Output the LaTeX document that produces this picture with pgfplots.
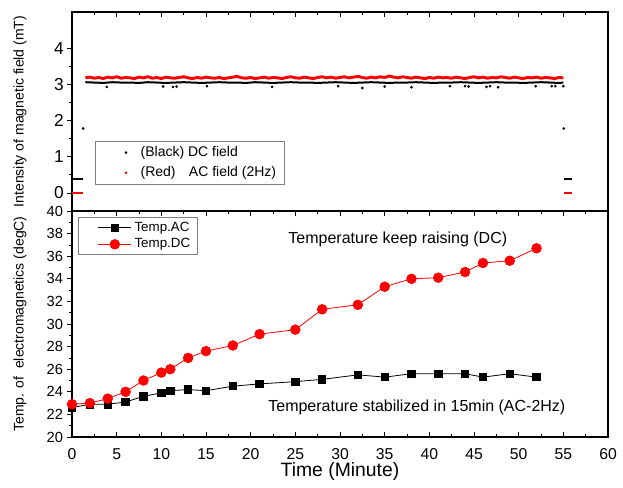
\documentclass[border=0pt]{standalone}
\usepackage{fontspec}
\setmainfont{Liberation Sans}
\usepackage{pgfplots}
\pgfplotsset{compat=1.18}
\begin{document}
\begin{tikzpicture}
\useasboundingbox (-54pt,-37.5pt) rectangle (413.25pt,327.75pt);
\pgfplotsset{
 common/.style={
  scale only axis, width=402pt, xmin=0, xmax=60, xtick={0,5,...,60}, minor x tick num=1,
  minor y tick num=1, tick align=inside, ytick pos=left,
  major tick length=3.5pt, minor tick length=2pt,
  tick style={black, line width=0.6pt},
  major y tick style={xshift=-3.5pt}, minor y tick style={xshift=-2pt},
  axis line style={line width=0.8pt},
  /pgf/number format/assume math mode=true,
 }
}
% ---------------- bottom panel: temperatures ----------------
\begin{axis}[common, at={(0,0)}, anchor=south west, height=169.5pt,
 ymin=20, ymax=40, ytick={20,22,...,40},
 xticklabel style={font=\fontsize{11.8}{12}\selectfont, yshift=-5pt},
 yticklabel style={font=\fontsize{11}{12}\selectfont, xshift=-3.2pt},
 xlabel={Time (Minute)},
 xlabel style={font=\fontsize{14.5}{16}\selectfont, at={(axis description cs:0.5,0)}, anchor=north, inner sep=0pt, yshift=-19pt},
 ylabel={Temp. of\ \ electromagnetics (degC)},
 ylabel style={font=\fontsize{10.5}{12}\selectfont, at={(axis description cs:-0.097,0.5)}, anchor=center, inner sep=0pt},
 legend style={at={(0.011,0.973)}, anchor=north west, draw=gray, font=\fontsize{10}{11}\selectfont, row sep=0pt, inner sep=1.5pt, inner xsep=3pt},
 legend cell align=left,
 legend image code/.code={\draw[draw=none] (-12pt,0pt) -- (0pt,0pt); \draw[mark repeat=2,mark phase=2,#1] plot coordinates {(0pt,0pt) (12.5pt,0pt) (25pt,0pt)};},
]
\addplot[black, line width=0.6pt, mark=square*, mark size=2.8pt] coordinates {
(0,22.6)(2,22.9)(4,22.9)(6,23.1)(8,23.6)(10,23.9)(11,24.1)(13,24.2)(15,24.1)(18,24.5)
(21,24.7)(25,24.9)(28,25.1)(32,25.5)(35,25.3)(38,25.6)(41,25.6)(44,25.6)(46,25.3)(49,25.6)(52,25.3)};
\addlegendentry{Temp.AC}
\addplot[red, line width=0.6pt, mark=*, mark size=3.6pt] coordinates {
(0,22.9)(2,23.0)(4,23.4)(6,24.0)(8,25.0)(10,25.7)(11,26.0)(13,27.0)(15,27.6)(18,28.1)
(21,29.1)(25,29.5)(28,31.3)(32,31.7)(35,33.3)(38,34.0)(41,34.1)(44,34.6)(46,35.4)(49,35.6)(52,36.7)};
\addlegendentry{Temp.DC}
\node[anchor=west, font=\fontsize{12}{14}\selectfont, inner sep=0pt] at (axis cs:24.2,37.45) {Temperature keep raising (DC)};
\node[anchor=west, font=\fontsize{12}{14}\selectfont, inner sep=0pt] at (axis cs:21.95,22.6) {Temperature stabilized in 15min (AC-2Hz)};
\end{axis}
% ---------------- top panel: magnetic field ----------------
\begin{axis}[common, at={(0,169.5pt)}, anchor=south west, height=149.25pt,
 ymin=-0.5, ymax=5, ytick={0,1,2,3,4},
 xtick pos=right, xticklabels={},
 yticklabel style={font=\fontsize{13}{14}\selectfont, xshift=-2.6pt},
 ylabel={Intensity of magnetic field (mT)},
 ylabel style={font=\fontsize{10.5}{12}\selectfont, at={(axis description cs:-0.097,0.5)}, anchor=center, inner sep=0pt},
 legend style={at={(0.043,0.352)}, anchor=north west, draw=gray, font=\fontsize{10.5}{12}\selectfont, row sep=2pt, inner xsep=4pt},
 legend cell align=left,
]
\addplot[black, line width=1.2pt, forget plot] coordinates {(0,0.38)(1.2,0.38)};
\addplot[red, line width=1.2pt, forget plot] coordinates {(0,0)(1.2,0)};
\addplot[black, line width=1.2pt, forget plot] coordinates {(55.1,0.38)(56,0.38)};
\addplot[red, line width=1.2pt, forget plot] coordinates {(55.1,0)(56,0)};
\addplot[black, only marks, mark=*, mark size=0.8pt, forget plot] coordinates {(1.25,1.78)(55.05,1.78)};
\addplot[black, only marks, mark=*, mark size=0.8pt, forget plot] coordinates {
(3.9,2.93)(10.2,2.94)(11.3,2.93)(11.7,2.94)(15.1,2.95)(22.4,2.93)(29.8,2.95)(32.5,2.90)(35.0,2.94)(38.0,2.92)
(42.3,2.95)(44.0,2.95)(44.4,2.94)(46.4,2.93)(46.8,2.95)(47.7,2.92)(51.9,2.95)(53.7,2.95)(54.1,2.95)(55.0,2.95)};
\addplot[black, line width=1.5pt,
 legend image code/.code={\draw[draw=none] (0pt,0pt) -- (28pt,0pt); \path[fill=black, draw=none, line width=0pt] (19pt,0pt) circle (1.1pt);}] coordinates {
(1.5,3.06)(2.5,3.05)(3.5,3.04)(4.5,3.06)(5.5,3.05)(6.5,3.05)(7.5,3.04)(8.5,3.06)(9.5,3.05)(10.5,3.04)
(11.5,3.05)(12.5,3.06)(13.5,3.05)(14.5,3.04)(15.5,3.05)(16.5,3.06)(17.5,3.05)(18.5,3.05)(19.5,3.04)(20.5,3.06)
(21.5,3.05)(22.5,3.04)(23.5,3.05)(24.5,3.06)(25.5,3.05)(26.5,3.05)(27.5,3.04)(28.5,3.05)(29.5,3.06)(30.5,3.05)
(31.5,3.04)(32.5,3.05)(33.5,3.06)(34.5,3.05)(35.5,3.04)(36.5,3.05)(37.5,3.05)(38.5,3.06)(39.5,3.05)(40.5,3.04)
(41.5,3.05)(42.5,3.05)(43.5,3.06)(44.5,3.05)(45.5,3.04)(46.5,3.05)(47.5,3.06)(48.5,3.05)(49.5,3.05)(50.5,3.04)
(51.5,3.05)(52.5,3.06)(53.5,3.05)(54.5,3.04)(55,3.05)};
\addlegendentry{(Black) DC field}
\addplot[red, line width=2.2pt,
 legend image code/.code={\draw[draw=none] (0pt,0pt) -- (28pt,0pt); \path[fill=red, draw=none, line width=0pt] (19pt,0pt) circle (1.1pt);}] coordinates {
(1.5,3.18)(2,3.20)(2.5,3.17)(3,3.19)(3.5,3.16)(4,3.20)(4.5,3.18)(5,3.21)(5.5,3.17)(6,3.19)
(6.5,3.18)(7,3.16)(7.5,3.20)(8,3.18)(8.5,3.21)(9,3.17)(9.5,3.19)(10,3.16)(10.5,3.20)(11,3.18)
(11.5,3.17)(12,3.19)(12.5,3.21)(13,3.18)(13.5,3.16)(14,3.19)(14.5,3.17)(15,3.20)(15.5,3.18)(16,3.17)
(16.5,3.19)(17,3.16)(17.5,3.18)(18,3.20)(18.5,3.22)(19,3.18)(19.5,3.17)(20,3.19)(20.5,3.16)(21,3.18)
(21.5,3.20)(22,3.17)(22.5,3.19)(23,3.18)(23.5,3.16)(24,3.19)(24.5,3.21)(25,3.18)(25.5,3.17)(26,3.20)
(26.5,3.18)(27,3.16)(27.5,3.19)(28,3.21)(28.5,3.18)(29,3.20)(29.5,3.17)(30,3.19)(30.5,3.21)(31,3.18)
(31.5,3.20)(32,3.22)(32.5,3.19)(33,3.17)(33.5,3.20)(34,3.18)(34.5,3.21)(35,3.19)(35.5,3.23)(36,3.20)
(36.5,3.18)(37,3.21)(37.5,3.19)(38,3.17)(38.5,3.20)(39,3.18)(39.5,3.16)(40,3.19)(40.5,3.17)(41,3.20)
(41.5,3.18)(42,3.19)(42.5,3.17)(43,3.20)(43.5,3.18)(44,3.16)(44.5,3.19)(45,3.21)(45.5,3.18)(46,3.20)
(46.5,3.17)(47,3.19)(47.5,3.18)(48,3.21)(48.5,3.19)(49,3.17)(49.5,3.20)(50,3.18)(50.5,3.16)(51,3.19)
(51.5,3.18)(52,3.20)(52.5,3.17)(53,3.19)(53.5,3.18)(54,3.16)(54.5,3.19)(55,3.18)};
\addlegendentry{(Red)\hspace{10pt}AC field (2Hz)}
\end{axis}
\end{tikzpicture}
\end{document}
